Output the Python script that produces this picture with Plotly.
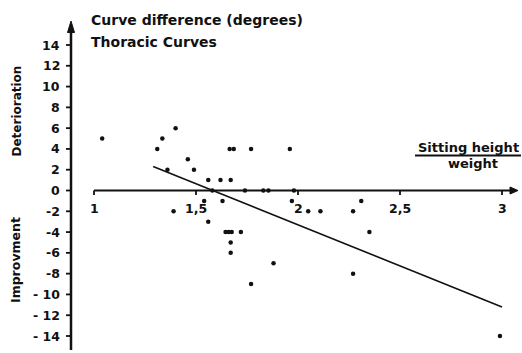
import plotly.graph_objects as go

# ---- data ----
ratio = [1.04, 1.31, 1.335, 1.40, 1.46, 1.49, 1.36,
         1.665, 1.685, 1.77, 1.96,
         1.56, 1.62, 1.67,
         1.58, 1.74, 1.83, 1.855, 1.98,
         1.54, 1.63, 1.97, 2.31,
         1.39, 2.05, 2.11, 2.27,
         1.56,
         1.645, 1.66, 1.675, 1.72, 2.35,
         1.67, 1.67, 1.88, 2.27, 1.77, 2.99]
diff = [5, 4, 5, 6, 3, 2, 2,
        4, 4, 4, 4,
        1, 1, 1,
        0, 0, 0, 0, 0,
        -1, -1, -1, -1,
        -2, -2, -2, -2,
        -3,
        -4, -4, -4, -4, -4,
        -5, -6, -7, -8, -9, -14]
reg_x = [1.29, 3.0]
reg_y = [2.3, -11.2]

y_ticks = [-14, -12, -10, -8, -6, -4, -2, 0, 2, 4, 6, 8, 10, 12, 14]
y_tick_labels = ["- 14", "- 12", "- 10", "-8", "-6", "-4", "-2", "0",
                 "2", "4", "6", "8", "10", "12", "14"]
x_ticks = [1, 1.5, 2, 2.5, 3]
x_tick_labels = ["1", "1,5", "2", "2,5", "3"]

# ---- pixel calibration ----
W, H = 522, 353
XPX = 204.0      # px per x unit
YPX = 10.393     # px per y unit
X0PX = 94.0      # px of x = 1
Y0PX = 190.5     # px of y = 0
xr = [1 - X0PX / XPX, 1 + (W - X0PX) / XPX]
yr = [(Y0PX - H) / YPX, Y0PX / YPX]
dx = 1 / XPX
dy = 1 / YPX
yaxis_x = 1 - (X0PX - 71) * dx

FONT = "DejaVu Sans"
INK = "#111111"

fig = go.Figure()
fig.add_trace(go.Scatter(x=reg_x, y=reg_y, mode="lines",
                         line=dict(color=INK, width=1.6), hoverinfo="skip"))
fig.add_trace(go.Scatter(x=ratio, y=diff, mode="markers",
                         marker=dict(color=INK, size=4.5), hoverinfo="skip"))

shapes = []
# y axis
shapes.append(dict(type="line", x0=yaxis_x, x1=yaxis_x, y0=(Y0PX - 350) * dy, y1=15.6,
                   line=dict(color=INK, width=2.5)))
shapes.append(dict(type="path",
                   path=f"M {yaxis_x - 3.5*dx} {15.2} L {yaxis_x + 3.5*dx} {15.2} L {yaxis_x} {16.3} Z",
                   fillcolor=INK, line=dict(color=INK, width=1)))
for t in y_ticks:
    shapes.append(dict(type="line", x0=yaxis_x - 5 * dx, x1=yaxis_x, y0=t, y1=t,
                       line=dict(color=INK, width=1.8)))
# x axis
x_end = 1 + (518 - X0PX) * dx
shapes.append(dict(type="line", x0=1, x1=x_end - 6 * dx, y0=0, y1=0,
                   line=dict(color=INK, width=2)))
shapes.append(dict(type="path",
                   path=f"M {x_end - 8*dx} {3.5*dy} L {x_end - 8*dx} {-3.5*dy} L {x_end} 0 Z",
                   fillcolor=INK, line=dict(color=INK, width=1)))
for t in x_ticks:
    shapes.append(dict(type="line", x0=t, x1=t, y0=0, y1=-4.5 * dy,
                       line=dict(color=INK, width=1.8)))
# fraction bar of the x label
shapes.append(dict(type="line", xref="paper", yref="paper",
                   x0=415 / W, x1=521 / W, y0=1 - 155.5 / H, y1=1 - 155.5 / H,
                   line=dict(color=INK, width=1.8)))

ann = []
for t, lab in zip(y_ticks, y_tick_labels):
    ann.append(dict(x=yaxis_x, y=t, text=f"<b>{lab}</b>", showarrow=False,
                    xanchor="right", yanchor="middle", xshift=-9,
                    font=dict(family=FONT, size=12.5, color=INK)))
for t, lab in zip(x_ticks, x_tick_labels):
    ann.append(dict(x=t, y=0, text=f"<b>{lab}</b>", showarrow=False,
                    xanchor="center", yanchor="middle", yshift=-18,
                    font=dict(family=FONT, size=12.5, color=INK)))


def ptext(txt, xp, yp, xanchor="left", angle=0, size=13):
    return dict(xref="paper", yref="paper", x=xp / W, y=1 - yp / H,
                text=f"<b>{txt}</b>", showarrow=False, xanchor=xanchor,
                yanchor="middle", textangle=angle,
                font=dict(family=FONT, size=size, color=INK))


ann.append(ptext("Curve difference (degrees)", 89, 20, size=14))
ann.append(ptext("Thoracic Curves", 89, 42, size=14))
ann.append(ptext("Deterioration", 16.5, 111, xanchor="center", angle=-90, size=12))
ann.append(ptext("Improvment", 15, 260, xanchor="center", angle=-90, size=12.5))
ann.append(ptext("Sitting height", 468, 147, xanchor="center"))
ann.append(ptext("weight", 473, 163, xanchor="center"))

fig.update_layout(
    width=W, height=H, margin=dict(l=0, r=0, t=0, b=0),
    paper_bgcolor="white", plot_bgcolor="white", showlegend=False,
    xaxis=dict(range=xr, visible=False, fixedrange=True),
    yaxis=dict(range=yr, visible=False, fixedrange=True),
    shapes=shapes, annotations=ann,
)
fig.write_html("out.html", config={"displayModeBar": False},
               post_script="document.body.style.margin='0';document.body.style.overflow='hidden';")
